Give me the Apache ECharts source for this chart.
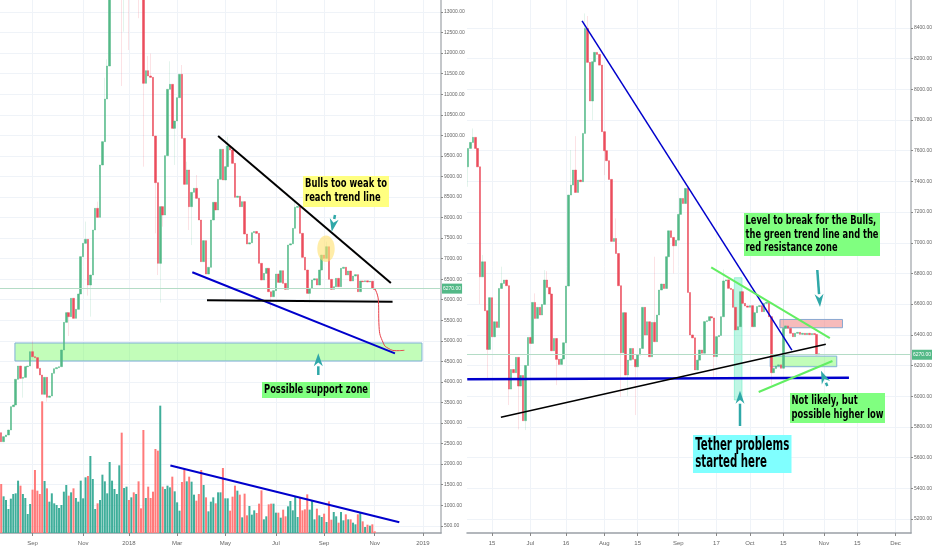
<!DOCTYPE html>
<html><head><meta charset="utf-8">
<style>html,body{margin:0;padding:0;background:#fff}#c{width:932px;height:550px}</style>
<script src="https://cdn.jsdelivr.net/npm/echarts@6/dist/echarts.min.js"></script>
</head><body><div id="c"></div>
<script>
// ---------- left panel (3-day bars) ----------
const firstOpenL = 2765;
const closeL = [2546,2668,2708,2830,3398,3438,4063,4387,4087,4111,4371,4387,4736,4614,4590,4331,4168,3698,4111,3625,
3657,4209,4322,4347,4371,4777,5450,5685,5588,6034,5547,5766,6139,7047,7372,7469,6358,6601,7696,8223,
8004,9278,9845,10883,11686,13800,15400,16400,17000,18900,14000,14200,15000,14000,15000,14800,16500,14500,13800,11265,
11573,11443,11410,9983,8848,6885,8264,8061,9505,11119,11240,10170,10348,10916,11483,9926,8807,9156,8264,8612,
8710,8467,7939,6926,7437,6625,6788,7939,8369,8183,8929,9659,8913,9237,9740,9642,9318,8491,8520,8264,
8386,7598,7355,7385,7631,7660,7615,6885,6479,6641,6763,6195,6074,6220,6625,6422,6706,6398,6252,7331,
7360,7736,8247,8270,7615,7031,6722,6155,6276,6479,6510,6358,6722,7087,7006,7290,6495,6252,6317,6520,
6317,6763,6790,6601,6698,6455,6576,6610,6195,6455,6437,6460,6430,6450,6276,6250];
const wicksL = [[9,3617,null],[13,null,5000],[19,3520,null],[28,5117,null],[35,null,7900],[36,6100,null],[37,5588,null],[40,null,8385],
[41,9030,null],[43,null,11400],[44,null,11850],[50,11200,null],[51,12520,null],[53,12075,null],[57,12850,null],[59,9237,null],
[61,null,11930],[62,null,11990],[64,7615,null],[65,6600,null],[66,5930,null],[67,7777,null],[70,null,11800],[72,9278,null],
[75,null,11710],[77,null,9358],[78,7696,null],[79,7330,null],[81,null,9034],[94,null,9966],[112,5790,null],[122,null,8385],
[128,5928,null],[135,null,7412]];
const volL = [147,110,99,72,103,117,119,157,142,117,105,57,87,130,189,127,117,395,156,134,94,119,89,84,75,84,124,144,112,122,
134,105,94,157,104,167,171,231,162,72,89,99,175,155,119,213,157,132,117,203,301,135,139,99,107,122,117,155,74,309,
105,139,105,124,252,247,382,139,132,142,137,169,125,92,67,153,191,155,169,154,115,97,117,189,144,107,65,94,107,89,
122,122,195,104,104,67,109,142,127,115,47,
118,53,81,55,68,60,88,128,41,50,86,88,88,61,61,46,70,50,80,96,68,110,48,106,68,71,116,70,98,41,73,53,48,58,33,95,40,63,50,31,63,38,56,41,41,31,26,56,60,35,18,25,22,26,5];
const priceTicksL = [500,1000,1500,2000,2500,3000,3500,4000,4500,5000,5500,6000,6500,7000,7500,8000,8500,9000,9500,10000,10500,11000,11500,12000,12500,13000];
const tickBarsL = [13,34,53,73,93,114,134,155,175];
const tickLabelsL = ['Sep','Nov','2018','Mar','May','Jul','Sep','Nov','2019'];
const lastPrice = 6270;
// annotations, [bar, price]
const blackDownL = [[90,9983],[161.7,6407]];
const blueDownL = [[79.3,6667],[163.4,4696]];
const blackFlatL = [[85.4,5986],[162.4,5951]];
const projectionL = [[155.1,6261],[156.5,5993],[156.8,5343],[158.6,4940],[160.6,4818],[164.1,4760],[167.3,4769]];
const volTrendL = [[70.2,1964],[165.2,587]];
const supportZoneL = [[5.7,4947],[174.6,4509]];
// ---------- right panel (daily bars) ----------
const firstOpenR = 7495;
const closeR = [7615,7654,7687,7615,7495,6778,6876,6557,6305,6642,6387,6485,6448,6702,6735,6757,6720,6046,6174,6153,
6253,6066,6135,5840,6200,6383,6344,6611,6507,6579,6529,6598,6757,6709,6666,6296,6376,6240,6207,6242,
6348,6718,7311,7376,7474,7328,7409,7398,7713,8397,8176,7924,8180,8241,8228,8158,7724,7600,7535,7413,
7009,7028,6930,6720,6283,6544,6138,6235,6311,6240,6192,6268,6311,6579,6398,6485,6257,6481,6355,6529,
6692,6731,6702,6909,7078,7035,6980,7017,7185,7289,7256,7354,6676,6399,6380,6171,6235,6301,6280,6486,
6492,6518,6510,6258,6388,6396,6518,6751,6758,6703,6696,6579,6432,6453,6681,6605,6588,6580,6590,6453,
6544,6584,6590,6551,6605,6612,6518,6153,6180,6197,6204,6182,6442,6458,6442,6410,6388,6410,6416,6403,
6410,6401,6410,6401,6408,6402,6270,6276];
const wicksR = [[0,7365,null],[2,null,7745],[5,6600,null],[6,null,6920],[8,6116,null],[14,null,6844],[17,5942,null],[21,5783,null],[24,5779,null],
[28,null,6670],[32,null,6822],[33,null,6815],[37,6072,null],[43,null,7604],[45,null,7695],[49,null,8495],[50,null,8478],[52,7800,null],
[57,7441,null],[62,null,7159],[64,5996,null],[67,6000,null],[70,5877,null],[78,null,6909],[86,6800,null],[92,null,7370],[103,6110,null],
[107,null,6827],[127,6073,null],[132,null,6757]];
const priceTicksR = [5200,5400,5600,5800,6000,6200,6400,6600,6800,7000,7200,7400,7600,7800,8000,8200,8400];
const tickBarsR = [10,26,41,57,71,88,104,118,132,149,163,179];
const tickLabelsR = ['15','Jul','16','Aug','15','Sep','17','Oct','15','Nov','15','Dec'];
const blueSteepR = [[47.7,8446],[135.6,6300]];
const blueFlatR = [[-0.4,6110],[159.5,6120]];
const blackUpR = [[13.7,5862],[149.8,6338]];
const greenDownR = [[101.8,6840],[151.5,6379]];
const greenUpR = [[121.7,6027],[152.6,6229]];
const redZoneR = [[130.6,6500],[156.8,6446]];
const greenZoneR = [[126.5,6261],[154.4,6192]];
const tetherZoneR = [[111.5,6772],[114.7,5975]];

const UP='#53b987', DOWN='#eb4d5c', VUP='#3fae9a', VDOWN='#ff7a7a';
const FONT='"Liberation Sans",sans-serif';

function opens(first, closes){ return closes.map((c,i)=> i? closes[i-1] : first); }
function bodies(first, closes){ const o=opens(first,closes);
  return closes.map((c,i)=>[o[i],c,Math.min(o[i],c),Math.max(o[i],c)]); }
function withWicks(first, closes, wicks){ const b=bodies(first,closes).map(r=>r.slice());
  wicks.forEach(([i,l,h])=>{ if(l!=null) b[i][2]=l; if(h!=null) b[i][3]=h; }); return b; }
function cats(n, start, step){ const out=[]; const t0=Date.parse(start);
  for(let i=0;i<n;i++) out.push(new Date(t0+i*step*864e5).toISOString().slice(0,10)); return out; }

function xCat(gi, n, dates, bars, labels){
  const set=new Set(bars); const pick=i=>set.has(i);
  return {type:'category',gridIndex:gi,data:dates,boundaryGap:true,
    axisLine:{show:true,lineStyle:{color:'#9aa0a6',width:1.5}},
    axisTick:{show:true,alignWithLabel:true,interval:pick,length:3,lineStyle:{color:'#888'}},
    splitLine:{show:true,alignWithLabel:true,interval:pick,lineStyle:{color:'#eff3f8',width:1}},
    axisLabel:{interval:pick,color:'#666',fontFamily:FONT,fontSize:6,margin:7,
      formatter:(v,i)=>labels[bars.indexOf(i)]||''}};
}
function xVal(gi,n){ return {type:'value',gridIndex:gi,min:-0.5,max:n-0.5,show:false,splitLine:{show:false}}; }
function yPrice(gi,min,max,ticks){
  return {type:'value',gridIndex:gi,position:'right',min,max,
    axisLine:{show:true,onZero:false,lineStyle:{color:'#b0b4b8',width:1.5}},
    axisTick:{show:true,customValues:ticks,length:2,lineStyle:{color:'#888'}},
    splitLine:{show:true,lineStyle:{color:'#eff3f8',width:1}},
    axisLabel:{customValues:ticks,color:'#666',fontFamily:FONT,fontSize:5,margin:3,formatter:v=>v.toFixed(2)}};
}
function candles(xi,yi,first,closes,wicks){
  return [
   {type:'candlestick',xAxisIndex:xi,yAxisIndex:yi,z:3,barWidth:1,clip:true,silent:true,
    data:withWicks(first,closes,wicks),
    itemStyle:{color:'transparent',color0:'transparent',borderWidth:1,
      borderColor:'rgba(83,185,135,0.16)',borderColor0:'rgba(235,77,92,0.16)'}},
   {type:'candlestick',xAxisIndex:xi,yAxisIndex:yi,z:4,barWidth:2,clip:true,silent:true,
    data:bodies(first,closes),
    itemStyle:{color:UP,color0:DOWN,borderColor:UP,borderColor0:DOWN,borderWidth:0.5}}];
}
function line(xi,yi,pts,color,width,smooth){
  return {type:'line',xAxisIndex:xi,yAxisIndex:yi,data:pts,z:6,showSymbol:false,symbol:'none',silent:true,
    smooth:!!smooth,clip:false,lineStyle:{color,width}};
}
function zone(xi,yi,pts,fill,border){
  return {type:'line',xAxisIndex:xi,yAxisIndex:yi,data:pts,z:2,showSymbol:false,symbol:'none',silent:true,
    lineStyle:{opacity:0},
    markArea:{silent:true,z:2,itemStyle:{color:fill,borderColor:border,borderWidth:1},
      data:[[{coord:pts[0]},{coord:pts[1]}]]}};
}
function lastLine(xi,yi,n){
  return {type:'line',xAxisIndex:xi,yAxisIndex:yi,data:[[0,lastPrice],[n-1,lastPrice]],z:2,showSymbol:false,symbol:'none',silent:true,
    lineStyle:{opacity:0},
    markLine:{silent:true,symbol:'none',animation:false,lineStyle:{color:'#b4dcc6',width:1,type:'solid'},
      data:[{yAxis:lastPrice}],
      label:{show:true,position:'end',distance:1,formatter:lastPrice.toFixed(2),color:'#fff',backgroundColor:UP,
        fontFamily:FONT,fontSize:5,padding:[3,1,2,1]}}};
}

const nL=183, nR=186;
const barColorOf = bodies(firstOpenL,closeL).map(b=>b[1]>=b[0]);
const option={
  animation:false,backgroundColor:'#fff',
  grid:[{left:0,top:0,width:441,height:533,outerBoundsMode:'none'},{left:467,top:0,width:444,height:533,outerBoundsMode:'none'}],
  xAxis:[xCat(0,nL,cats(nL,'2017-07-23',3),tickBarsL,tickLabelsL),xVal(0,nL),
         xCat(1,nR,cats(nR,'2018-06-05',1),tickBarsR,tickLabelsR),xVal(1,nR)],
  yAxis:[yPrice(0,324,13292,priceTicksL),
         {type:'value',gridIndex:0,min:0,max:1599,show:false,splitLine:{show:false}},
         yPrice(1,5108,8582.5,priceTicksR)],
  series:[
    lastLine(1,0,nL), lastLine(3,2,nR),
    zone(1,0,supportZoneL,'rgba(120,250,100,0.45)','#7fb0d8'),
    zone(3,2,tetherZoneR,'rgba(110,235,195,0.45)','rgba(110,235,195,0.6)'),
    zone(3,2,redZoneR,'rgba(240,120,120,0.5)','#8aa8d0'),
    zone(3,2,greenZoneR,'rgba(120,250,100,0.45)','#7fb0d8'),
    {type:'bar',xAxisIndex:0,yAxisIndex:1,z:2,barWidth:2,silent:true,clip:true,
      data:volL.map((v,i)=>({value:v,itemStyle:{color:barColorOf[i]?VUP:VDOWN}}))},
    ...candles(0,0,firstOpenL,closeL,wicksL),
    ...candles(2,2,firstOpenR,closeR,wicksR),
    line(1,0,blackDownL,'#000',2),
    line(1,0,blueDownL,'#0000cc',2),
    line(1,0,blackFlatL,'#000',2),
    line(1,0,projectionL,'#e8404a',1,true),
    line(1,0,volTrendL,'#0000cc',2),
    line(3,2,blueSteepR,'#0000cc',1.5),
    line(3,2,blueFlatR,'#0000cc',2.4),
    line(3,2,blackUpR,'#000',1.5),
    line(3,2,greenDownR,'#62ee62',2),
    line(3,2,greenUpR,'#62ee62',2)
  ],
  graphic:{elements:[]}
};

// ---------- notes and arrows ----------
const mc=document.createElement('canvas').getContext('2d');
function note(x,y,w,h,fill,lines,fs,lh,tw){
  const font='bold '+fs+'px "DejaVu Sans"';
  mc.font=font;
  const maxW=Math.max(...lines.map(l=>mc.measureText(l).width));
  const sx=tw/maxW;
  const out=[{type:'rect',z:20,shape:{x,y,width:w,height:h},style:{fill}}];
  const pad=(w-tw)/2;
  const top=y+(h-lines.length*lh)/2;
  lines.forEach((l,i)=>out.push({type:'text',z:21,x:x+pad,y:top+i*lh,scaleX:sx,
    style:{text:l,font,fill:'#000',textAlign:'left',textVerticalAlign:'top'}}));
  return out;
}
function arrow(x1,y1,x2,y2){
  const a=Math.atan2(y2-y1,x2-x1), L=13, W=4.5;
  const bx=x2-L*Math.cos(a), by=y2-L*Math.sin(a), nx=-Math.sin(a), ny=Math.cos(a);
  const c='#2fa8a8';
  return [{type:'line',z:22,shape:{x1,y1,x2:bx,y2:by},style:{stroke:c,lineWidth:2.5}},
    {type:'polygon',z:22,shape:{points:[[x2,y2],[bx+nx*W,by+ny*W],[x2-L*0.7*Math.cos(a),y2-L*0.7*Math.sin(a)],[bx-nx*W,by-ny*W]]},style:{fill:c}}];
}
option.graphic.elements=[
  {type:'ellipse',z:5,shape:{cx:326,cy:248.7,rx:8.7,ry:13.3},style:{fill:'rgba(255,225,110,0.6)'}},
  ...note(303,176,86,31,'#ffff80',['Bulls too weak to','reach trend line'],13,14,82),
  ...note(262,382,108,16,'#80ff80',['Possible support zone'],13,14,104),
  ...note(744,213,136,43,'#80ff80',['Level to break for the Bulls,','the green trend line and the','red resistance zone'],13,13.5,133),
  ...note(790,393,95,30,'#80ff80',['Not likely, but','possible higher low'],13,14,92),
  ...note(693,435,98.5,38,'#80ffff',['Tether problems','started here'],17,16.5,94),
  ...arrow(335,215,331.7,231.7),
  ...arrow(318.3,375,318.3,353.3),
  ...arrow(817.3,270,820,307),
  ...arrow(827.3,386,821,370.7),
  ...arrow(740,426,740,390.7)
];
const chart=echarts.init(document.getElementById('c'),null,{renderer:'canvas'});
chart.setOption(option);
</script></body></html>
